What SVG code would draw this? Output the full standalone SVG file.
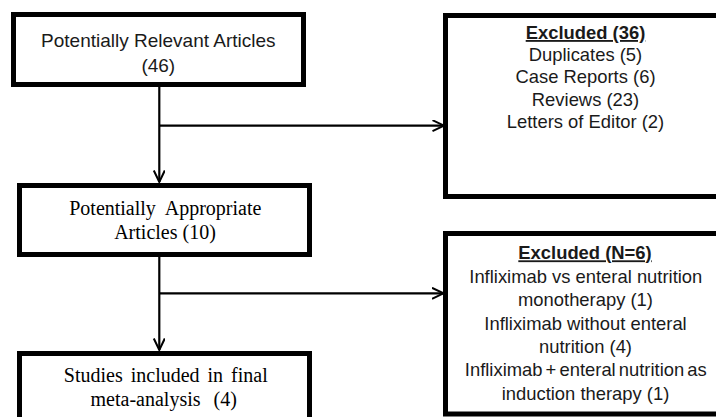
<svg xmlns="http://www.w3.org/2000/svg" width="716" height="417" viewBox="0 0 716 417">
<style>
.box{fill:#fff;stroke:#000;stroke-width:5}
.con{fill:none;stroke:#000;stroke-width:2.2}
.sans{font-family:"Liberation Sans",Arial,sans-serif;fill:#1a1a1a;text-anchor:middle}
.serif{font-family:"Liberation Serif","Times New Roman",serif;fill:#000;text-anchor:middle;font-size:20px}
.hd{font-weight:bold;text-decoration:underline}
</style>
<defs>
<marker id="arr" markerUnits="userSpaceOnUse" markerWidth="14" markerHeight="14" refX="12" refY="6" orient="auto">
<path d="M0.5,0.5 L12,6 L0.5,11.5" fill="none" stroke="#000" stroke-width="2"/>
</marker>
</defs>
<rect width="716" height="417" fill="#fff"/>
<g id="connectors">
<line class="con" x1="159.3" y1="87" x2="159.3" y2="182" marker-end="url(#arr)"/>
<line class="con" x1="159.3" y1="125.7" x2="444" y2="125.7" marker-end="url(#arr)"/>
<line class="con" x1="159.3" y1="257" x2="159.3" y2="350" marker-end="url(#arr)"/>
<line class="con" x1="159.3" y1="293.3" x2="443.5" y2="293.3" marker-end="url(#arr)"/>
</g>
<g id="relevant">
<rect class="box" x="13.5" y="14.5" width="290" height="70"/>
<text class="sans" font-size="19" x="158.3" y="46.5">Potentially Relevant Articles</text>
<text class="sans" font-size="19" x="158.3" y="71.5">(46)</text>
</g>
<g id="excluded1">
<rect class="box" x="445.5" y="15.5" width="300" height="181"/>
<text class="sans hd" font-size="18.4" x="585.5" y="39">Excluded (36)</text>
<text class="sans" font-size="18.4" x="585.5" y="60.5">Duplicates (5)</text>
<text class="sans" font-size="18.4" x="585.5" y="83">Case Reports (6)</text>
<text class="sans" font-size="18.4" x="585.5" y="105.5">Reviews (23)</text>
<text class="sans" font-size="18.4" x="585.5" y="128">Letters of Editor (2)</text>
</g>
<g id="appropriate">
<rect class="box" x="19.5" y="185.5" width="290" height="69"/>
<text class="serif" x="165.3" y="215.3" word-spacing="5">Potentially Appropriate</text>
<text class="serif" x="165" y="239.3">Articles (10)</text>
</g>
<g id="included">
<rect class="box" x="19.5" y="353.5" width="290" height="100"/>
<text class="serif" x="165.8" y="382.3" word-spacing="3">Studies included in final</text>
<text class="serif" x="163.7" y="406" word-spacing="8">meta-analysis (4)</text>
</g>
<g id="excluded2">
<rect class="box" x="445.5" y="233.5" width="300" height="180.5"/>
<text class="sans hd" font-size="18.4" x="585" y="259.3">Excluded (N=6)</text>
<text class="sans" font-size="18.4" x="585.8" y="283">Infliximab vs enteral nutrition</text>
<text class="sans" font-size="18.4" x="585.5" y="306.3">monotherapy (1)</text>
<text class="sans" font-size="18.4" x="585.5" y="329.7">Infliximab without enteral</text>
<text class="sans" font-size="18.4" x="585.5" y="353">nutrition (4)</text>
<text class="sans" font-size="18.4" x="585.8" y="376.3" word-spacing="-2">Infliximab + enteral nutrition as</text>
<text class="sans" font-size="18.4" x="585.5" y="399.7">induction therapy (1)</text>
</g>
</svg>
